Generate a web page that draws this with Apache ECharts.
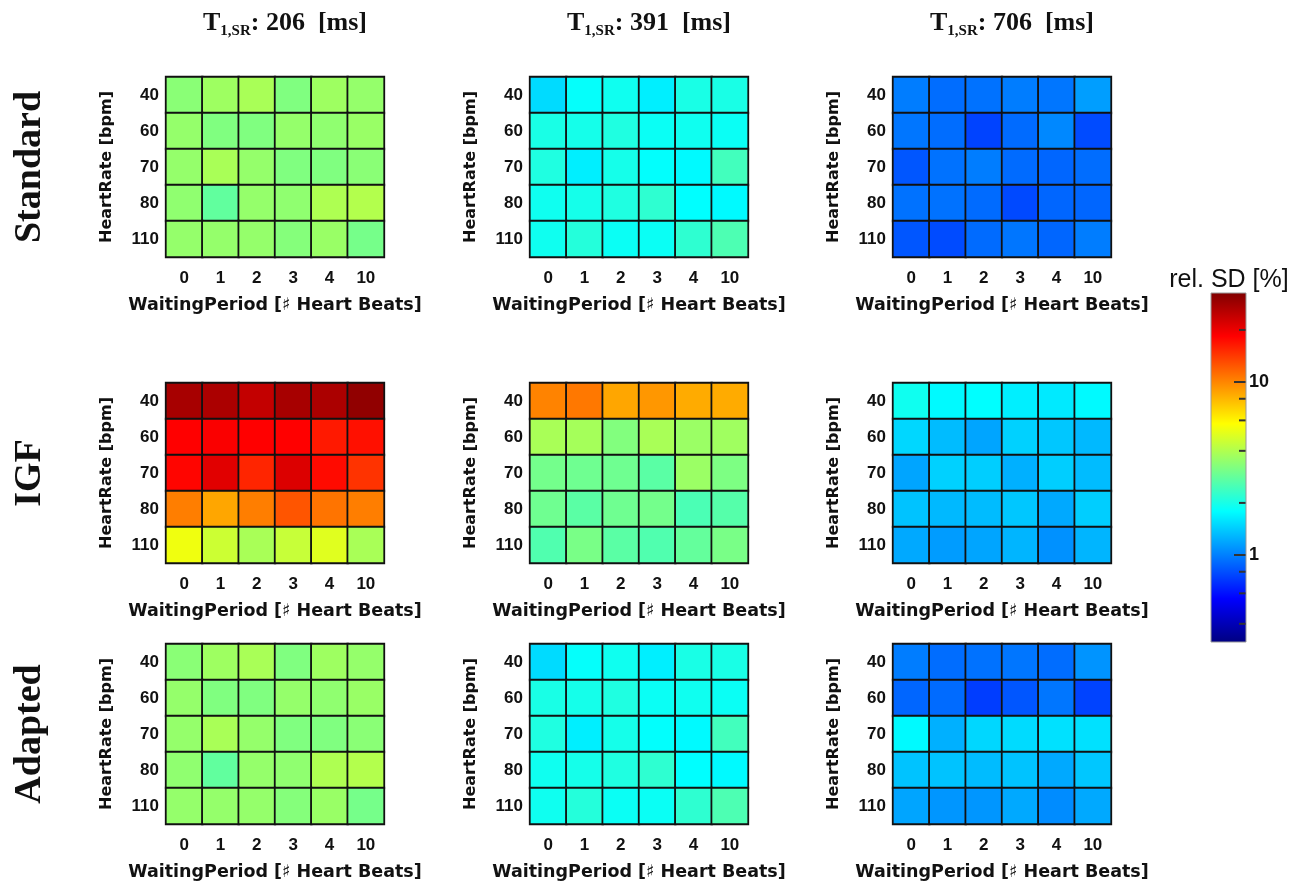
<!DOCTYPE html>
<html><head><meta charset="utf-8">
<script src="https://cdn.jsdelivr.net/npm/echarts@6/dist/echarts.min.js"></script>
<style>html,body{margin:0;padding:0;background:#fff}#c{width:1299px;height:891px}</style>
</head><body><div id="c"></div>
<script>
// ---------- data ----------
const waitingPeriods = ['0', '1', '2', '3', '4', '10'];
const heartRates = ['40', '60', '70', '80', '110'];
const t1Values = ['206', '391', '706'];
const methods = ['Standard', 'IGF', 'Adapted'];

// rel. SD [%]; rows = heart rate 40,60,70,80,110; cols = waiting period 0,1,2,3,4,10
const standard206 = [
  [3.36, 3.68, 3.86, 3.20, 3.68, 3.52],
  [3.52, 3.20, 3.20, 3.52, 3.44, 3.60],
  [3.52, 3.86, 3.52, 3.20, 3.20, 3.36],
  [3.44, 2.79, 3.52, 3.44, 3.95, 4.04],
  [3.52, 3.52, 3.52, 3.28, 3.60, 3.06]
];
const standard391 = [
  [1.52, 1.83, 1.92, 1.67, 2.01, 2.01],
  [2.01, 1.97, 2.06, 1.88, 1.92, 1.88],
  [2.06, 1.67, 1.97, 1.81, 1.75, 2.42],
  [1.92, 1.97, 2.06, 2.21, 1.79, 1.75],
  [1.92, 2.11, 1.88, 1.88, 2.21, 2.54]
];
const standard706 = [
  [0.99, 0.92, 0.94, 0.99, 0.96, 1.15],
  [0.96, 0.92, 0.76, 0.91, 1.04, 0.79],
  [0.83, 0.94, 0.99, 0.91, 0.89, 0.92],
  [0.94, 0.94, 0.91, 0.78, 0.89, 0.89],
  [0.83, 0.79, 0.91, 0.96, 0.89, 0.99]
];
const igf206 = [
  [27.4, 26.9, 24.1, 27.4, 26.9, 30.2],
  [18.3, 18.7, 18.3, 18.3, 16.3, 17.0],
  [17.9, 21.0, 15.5, 21.5, 17.5, 14.5],
  [10.35, 8.59, 10.35, 12.45, 10.8, 10.35],
  [5.34, 4.54, 3.86, 4.43, 4.98, 3.86]
];
const igf391 = [
  [10.1, 10.6, 8.59, 9.23, 8.40, 8.40],
  [3.86, 3.80, 3.23, 3.86, 3.63, 3.71],
  [3.03, 2.96, 2.96, 2.70, 3.63, 3.16],
  [2.96, 2.70, 2.96, 3.03, 2.52, 2.64],
  [2.58, 3.10, 2.70, 2.58, 2.82, 3.10]
];
const igf706 = [
  [1.92, 1.75, 1.79, 1.67, 1.63, 1.75],
  [1.49, 1.32, 1.19, 1.45, 1.39, 1.30],
  [1.19, 1.45, 1.43, 1.25, 1.43, 1.32],
  [1.36, 1.30, 1.32, 1.39, 1.21, 1.43],
  [1.21, 1.14, 1.19, 1.28, 1.085, 1.28]
];
const adapted206 = [
  [3.36, 3.68, 3.86, 3.20, 3.68, 3.52],
  [3.52, 3.20, 3.20, 3.52, 3.44, 3.60],
  [3.52, 3.86, 3.52, 3.20, 3.20, 3.36],
  [3.44, 2.79, 3.52, 3.44, 3.95, 4.04],
  [3.52, 3.52, 3.52, 3.28, 3.60, 3.06]
];
const adapted391 = [
  [1.52, 1.83, 1.92, 1.67, 2.01, 2.01],
  [2.01, 1.97, 2.06, 1.88, 1.92, 1.88],
  [2.06, 1.67, 1.97, 1.81, 1.75, 2.42],
  [1.92, 1.97, 2.06, 2.21, 1.79, 1.75],
  [1.92, 2.11, 1.88, 1.88, 2.21, 2.54]
];
const adapted706 = [
  [0.99, 0.92, 0.94, 0.96, 0.92, 1.10],
  [0.89, 0.91, 0.74, 0.83, 0.96, 0.76],
  [1.75, 1.25, 1.49, 1.52, 1.56, 1.56],
  [1.36, 1.36, 1.32, 1.36, 1.21, 1.39],
  [1.19, 1.11, 1.11, 1.21, 1.06, 1.21]
];
const colorbarMin = 0.314;
const colorbarMax = 32.7;
const colorbarMajorTicks = [1, 10];
const colorbarMinorTicks = [0.4, 0.6, 0.8, 2, 4, 6, 8, 20];

// ---------- layout / style ----------
const panels = [
  [standard206, standard391, standard706],
  [igf206, igf391, igf706],
  [adapted206, adapted391, adapted706]
];
const gridLefts = [166, 530, 893];
const gridTops = [77, 383, 644];
const gridW = 218, gridH = 180;
const jet = ['#000080', '#0000ff', '#0080ff', '#00ffff', '#80ff80', '#ffff00', '#ff8000', '#ff0000', '#800000'];
const sansFont = 'Liberation Sans';
const wideSans = 'DejaVu Sans';
const serifFont = 'Liberation Serif';

const grids = [], xAxes = [], yAxes = [], series = [], titles = [], graphics = [];
let k = 0;
for (let r = 0; r < 3; r++) {
  for (let c = 0; c < 3; c++) {
    grids.push({ left: gridLefts[c], top: gridTops[r], width: gridW, height: gridH,
      show: true, borderColor: '#000', borderWidth: 1.8, backgroundColor: 'transparent' });
    xAxes.push({ type: 'category', gridIndex: k, data: waitingPeriods,
      axisLine: { show: false }, axisTick: { show: false }, splitLine: { show: false },
      axisLabel: { margin: 13, fontSize: 17, fontWeight: 'bold', color: '#111', fontFamily: sansFont },
      name: 'WaitingPeriod [\u266F Heart Beats]', nameLocation: 'middle', nameGap: 39,
      nameTextStyle: { fontSize: 17.5, fontWeight: 'bold', color: '#111', fontFamily: wideSans } });
    yAxes.push({ type: 'category', gridIndex: k, data: heartRates, inverse: true,
      axisLine: { show: false }, axisTick: { show: false }, splitLine: { show: false },
      axisLabel: { margin: 7, fontSize: 17, fontWeight: 'bold', color: '#111', fontFamily: sansFont },
      name: 'HeartRate [bpm]', nameLocation: 'middle', nameGap: 51, nameRotate: 90,
      nameTextStyle: { fontSize: 16, fontWeight: 'bold', color: '#111', fontFamily: wideSans } });
    const vals = panels[r][c];
    const data = [];
    for (let i = 0; i < heartRates.length; i++) {
      for (let j = 0; j < waitingPeriods.length; j++) {
        data.push([j, i, Math.log10(vals[i][j])]);
      }
    }
    series.push({ type: 'heatmap', xAxisIndex: k, yAxisIndex: k, data: data,
      itemStyle: { borderColor: '#111', borderWidth: 1.8 }, emphasis: { disabled: true } });
    k++;
  }
}
const heatmapCount = series.length;
// column titles
for (let c = 0; c < 3; c++) {
  titles.push({
    left: gridLefts[c] + 32, top: 3,
    text: '{m|T}{s|1,SR}{m|: ' + t1Values[c] + '  [ms]}',
    textStyle: { rich: {
      m: { fontFamily: serifFont, fontWeight: 'bold', fontSize: 26, color: '#111', lineHeight: 31 },
      s: { fontFamily: serifFont, fontWeight: 'bold', fontSize: 15, color: '#111', lineHeight: 16, verticalAlign: 'bottom' }
    } }
  });
}
// row labels
for (let r = 0; r < 3; r++) {
  graphics.push({ type: 'text', x: 30, y: gridTops[r] + gridH / 2, rotation: Math.PI / 2,
    style: { text: methods[r], font: 'bold 38px "' + serifFont + '"', fill: '#111',
      textAlign: 'center', textVerticalAlign: 'middle' } });
}
// colorbar
const cbIndex = grids.length;
const logMin = Math.log10(colorbarMin), logMax = Math.log10(colorbarMax);
grids.push({ left: 1211, top: 293, width: 35, height: 349, show: true,
  borderColor: '#999', borderWidth: 1,
  backgroundColor: { type: 'linear', x: 0, y: 1, x2: 0, y2: 0,
    colorStops: jet.map((col, i) => ({ offset: i / (jet.length - 1), color: col })) } });
xAxes.push({ type: 'value', gridIndex: cbIndex, min: 0, max: 1, show: false });
yAxes.push({ type: 'value', gridIndex: cbIndex, position: 'right', min: logMin, max: logMax,
  axisLine: { show: false, onZero: false }, splitLine: { show: false },
  axisTick: { show: false },
  axisLabel: { margin: 3, customValues: colorbarMajorTicks.map(Math.log10),
    formatter: v => String(Math.round(Math.pow(10, v))),
    fontSize: 18, fontWeight: 'bold', color: '#111', fontFamily: sansFont } });
const tickData = colorbarMajorTicks.map(v => [1, Math.log10(v), 12])
  .concat(colorbarMinorTicks.map(v => [1, Math.log10(v), 7]));
series.push({ type: 'custom', xAxisIndex: 9, yAxisIndex: 9, z: 10, silent: true,
  data: tickData, encode: { x: 0, y: 1 },
  renderItem: function (params, api) {
    const p = api.coord([api.value(0), api.value(1)]);
    return { type: 'line', shape: { x1: p[0] - api.value(2), y1: p[1], x2: p[0] - 0.5, y2: p[1] },
      style: { stroke: '#333', lineWidth: 2 } };
  } });
titles.push({ text: 'rel. SD [%]', left: 1224, top: 263, textAlign: 'center',
  textStyle: { fontFamily: sansFont, fontWeight: 'normal', fontSize: 25, color: '#111' } });

const chart = echarts.init(document.getElementById('c'), null, { renderer: 'canvas' });
chart.setOption({
  backgroundColor: '#fff',
  animation: false,
  title: titles,
  grid: grids,
  xAxis: xAxes,
  yAxis: yAxes,
  visualMap: { type: 'continuous', show: false, min: logMin, max: logMax,
    seriesIndex: Array.from({ length: heatmapCount }, (_, i) => i), inRange: { color: jet } },
  series: series,
  graphic: graphics
});
</script>
</body></html>
